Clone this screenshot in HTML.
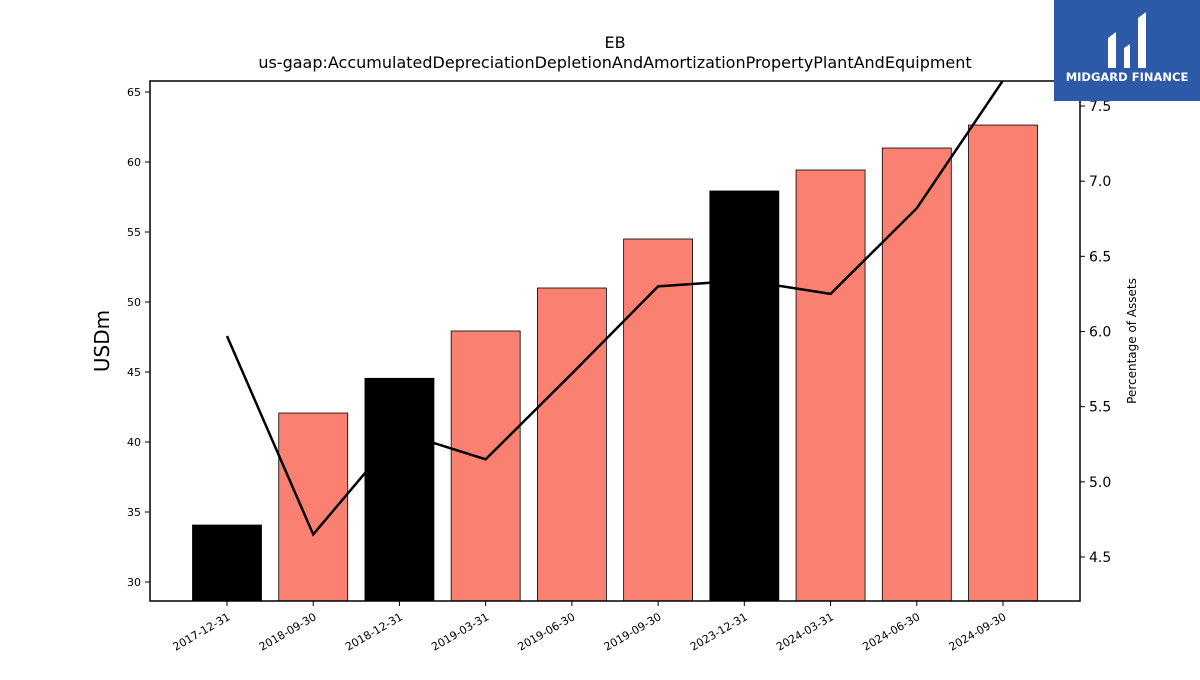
<!DOCTYPE html>
<html><head><meta charset="utf-8"><style>
body{margin:0;background:#fff;}
svg text{font-family:"DejaVu Sans","Liberation Sans",sans-serif;}
</style></head><body>
<svg id="chart" width="1200" height="675" xmlns="http://www.w3.org/2000/svg">
<text x="615" y="48" font-size="16" text-anchor="middle">EB</text>
<text x="615" y="68" font-size="16" text-anchor="middle">us-gaap:AccumulatedDepreciationDepletionAndAmortizationPropertyPlantAndEquipment</text>
<g id="bars"></g>
<g id="line"></g>
<rect x="150" y="81" width="930" height="520" fill="none" stroke="#000" stroke-width="1.5"/>
<g id="laxis"></g>
<g id="raxis"></g>
<g id="xaxis"></g>
<text transform="translate(109,341) rotate(-90)" font-size="20" text-anchor="middle">USDm</text>
<text transform="translate(1136,341) rotate(-90)" font-size="12" text-anchor="middle">Percentage of Assets</text>
<g>
<rect x="1054" y="0" width="146" height="101" fill="#2c5aa8"/>
<path d="M1108 68 L1108 38 L1116 32 L1116 68 Z M1124 68 L1124 48 L1130 44 L1130 68 Z M1138 68 L1138 18 L1146 12 L1146 68 Z" fill="#fff"/>
<text x="1127" y="81" font-size="11.5" font-weight="bold" fill="#fff" text-anchor="middle">MIDGARD FINANCE</text>
</g>
</svg>
<script>
const categories=["2017-12-31","2018-09-30","2018-12-31","2019-03-31","2019-06-30","2019-09-30","2023-12-31","2024-03-31","2024-06-30","2024-09-30"];
const barValues=[34.07,42.07,44.55,47.93,51.0,54.5,57.93,59.43,61.0,62.64];
const pctValues=[5.97,4.65,5.33,5.15,5.72,6.30,6.34,6.25,6.82,7.67];
const leftTicks=[30,35,40,45,50,55,60,65];
const rightTicks=[4.5,5.0,5.5,6.0,6.5,7.0,7.5];
const NS="http://www.w3.org/2000/svg";
const x0=150,x1=1080,yT=81,yB=601;
const yL=v=>582-(v-30)*14;
const yR=v=>106-(v-7.5)*150.33;
const step=(x1-x0)/categories.length*0.9275;
const xC=i=>227+i*((1003-227)/(categories.length-1));
function mk(t,a,p){const e=document.createElementNS(NS,t);for(const k in a)e.setAttribute(k,a[k]);p.appendChild(e);return e;}
const bars=document.getElementById('bars');
categories.forEach((c,i)=>{
 const y=yL(barValues[i]);
 const r=mk('rect',{x:xC(i)-34.5,y:y,width:69,height:yB-y,fill:c.endsWith('12-31')?'#000':'#fa8072',stroke:'#000','stroke-width':0.8},bars);
 
 
});
const lg=document.getElementById('line');
mk('clipPath',{id:'cp'},lg).appendChild(Object.assign(document.createElementNS(NS,'rect'),{}));
document.querySelector('#cp rect').setAttribute('x',x0);document.querySelector('#cp rect').setAttribute('y',yT);
document.querySelector('#cp rect').setAttribute('width',x1-x0);document.querySelector('#cp rect').setAttribute('height',yB-yT);
const pl=mk('polyline',{points:pctValues.map((v,i)=>xC(i)+','+yR(v)).join(' '),fill:'none',stroke:'#000','stroke-width':2.5,'clip-path':'url(#cp)'},lg);


const la=document.getElementById('laxis');
leftTicks.forEach(v=>{const y=yL(v);
 mk('line',{x1:x0-5,x2:x0,y1:y,y2:y,stroke:'#000'},la);
 const t=mk('text',{x:x0-9,y:y+4,'font-size':11,'text-anchor':'end'},la);t.textContent=v;
 
 });
const ra=document.getElementById('raxis');
rightTicks.forEach(v=>{const y=yR(v);
 mk('line',{x1:x1,x2:x1+5,y1:y,y2:y,stroke:'#000'},ra);
 const t=mk('text',{x:x1+9,y:y+5,'font-size':14},ra);t.textContent=v.toFixed(1);
 
 });
const xa=document.getElementById('xaxis');
categories.forEach((c,i)=>{const x=xC(i);
 mk('line',{x1:x,x2:x,y1:yB,y2:yB+5,stroke:'#000'},xa);
 const t=mk('text',{transform:`translate(${x+4},${yB+18}) rotate(-30)`,'font-size':11,'text-anchor':'end'},xa);t.textContent=c;
 
 });
</script>
</body></html>
